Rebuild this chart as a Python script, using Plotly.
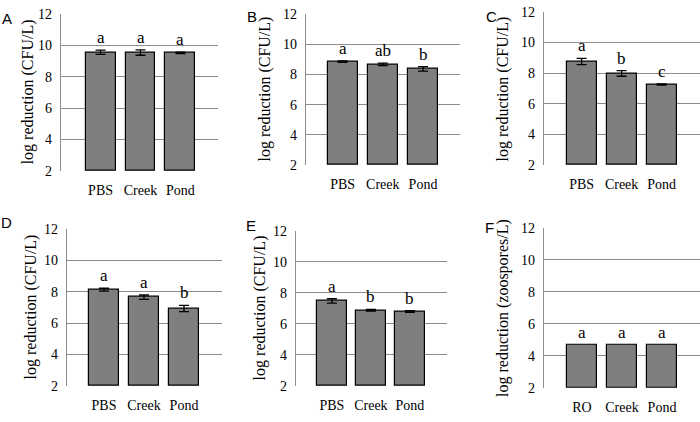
import plotly.graph_objects as go

# ---- data ----
panel_letters = ["A", "B", "C", "D", "E", "F"]
cats_bact = ["PBS", "Creek", "Pond"]
cats_zoo = ["RO", "Creek", "Pond"]

vals_A = [9.55, 9.53, 9.51]
err_A = [0.13, 0.17, 0.05]
sig_A = ["a", "a", "a"]

vals_B = [8.84, 8.66, 8.36]
err_B = [0.05, 0.08, 0.15]
sig_B = ["a", "ab", "b"]

vals_C = [8.76, 7.98, 7.26]
err_C = [0.20, 0.18, 0.04]
sig_C = ["a", "b", "c"]

vals_D = [8.13, 7.65, 6.93]
err_D = [0.09, 0.14, 0.20]
sig_D = ["a", "a", "b"]

vals_E = [7.48, 6.88, 6.80]
err_E = [0.14, 0.05, 0.05]
sig_E = ["a", "b", "b"]

vals_F = [4.70, 4.70, 4.70]
err_F = [0.0, 0.0, 0.0]
sig_F = ["a", "a", "a"]

ytitle_bact = "log reduction (CFU/L)"
ytitle_zoo = "log reduction (zoospores/L)"
y_ticks = [2, 4, 6, 8, 10, 12]

panels = [
    dict(v=vals_A, e=err_A, s=sig_A, c=cats_bact, t=ytitle_bact),
    dict(v=vals_B, e=err_B, s=sig_B, c=cats_bact, t=ytitle_bact),
    dict(v=vals_C, e=err_C, s=sig_C, c=cats_bact, t=ytitle_bact),
    dict(v=vals_D, e=err_D, s=sig_D, c=cats_bact, t=ytitle_bact),
    dict(v=vals_E, e=err_E, s=sig_E, c=cats_bact, t=ytitle_bact),
    dict(v=vals_F, e=err_F, s=sig_F, c=cats_zoo, t=ytitle_zoo),
]

# ---- layout geometry (pixels) ----
W, H = 700, 422
# left, right, top, bottom of each plot area
boxes = [
    (61, 218, 7, 170),
    (306, 460, 7, 164),
    (544, 700, 5, 164),
    (67, 222, 230, 393),
    (296, 447, 232, 393),
    (544, 700, 229, 395),
]
ranges_x = [
    [-0.99, 2.94],
    [-0.91, 2.92],
    [-0.94, 2.96],
    [-0.925, 2.95],
    [-0.92, 2.95],
    [-0.95, 2.95],
]
title_x = [28, 265, 503, 31, 260, 503]
letter_pos = [(7, 12), (252, 10), (491, 10), (6, 223), (251, 227), (490, 229)]

serif = "Liberation Serif"
sans = "Liberation Sans"

fig = go.Figure()
annotations = []
layout_axes = {}

for i, p in enumerate(panels):
    n = "" if i == 0 else str(i + 1)
    xa, ya = "x" + n, "y" + n
    l, r, t, b = boxes[i]
    show_err = any(e > 0 for e in p["e"])
    fig.add_trace(go.Bar(
        x=[0, 1, 2], y=[v - 2 for v in p["v"]], base=2,
        width=0.75,
        marker=dict(color="#7f7f7f", line=dict(color="#000000", width=1.2)),
        error_y=dict(type="data", array=p["e"], visible=show_err,
                     color="#000000", thickness=1.3, width=5),
        xaxis=xa, yaxis=ya, showlegend=False, hoverinfo="skip",
    ))
    layout_axes["xaxis" + n] = dict(
        domain=[l / W, r / W], anchor=ya, range=ranges_x[i],
        tickvals=[0, 1, 2], ticktext=p["c"],
        ticks="outside", ticklen=6, tickcolor="rgba(0,0,0,0)",
        showgrid=False, zeroline=False, showline=False,
        tickfont=dict(family=serif, size=14, color="#000"),
        fixedrange=True,
    )
    layout_axes["yaxis" + n] = dict(
        domain=[(H - b) / H, (H - t) / H], anchor=xa, range=[2, 12],
        tickvals=y_ticks, ticks="outside", ticklen=5,
        tickcolor="rgba(0,0,0,0)",
        showgrid=True, gridcolor="#8c8c8c", gridwidth=1.2,
        zeroline=False, showline=True, linecolor="#8c8c8c", linewidth=1.2,
        tickfont=dict(family=serif, size=14, color="#000"),
        fixedrange=True,
    )
    # y-axis title
    annotations.append(dict(
        x=title_x[i] / W, y=(H - (t + b) / 2) / H, xref="paper", yref="paper",
        text=p["t"], textangle=-90, showarrow=False,
        xanchor="center", yanchor="middle",
        font=dict(family=serif, size=16, color="#000"),
    ))
    # panel letter
    lx, ly = letter_pos[i]
    annotations.append(dict(
        x=lx / W, y=(H - ly) / H, xref="paper", yref="paper",
        text=panel_letters[i], showarrow=False,
        xanchor="center", yanchor="middle",
        font=dict(family=sans, size=15, color="#000"),
    ))
    # significance letters
    for j in range(3):
        annotations.append(dict(
            x=j, y=p["v"][j] + p["e"][j], xref=xa, yref=ya,
            text=p["s"][j], showarrow=False,
            xanchor="center", yanchor="bottom", yshift=1,
            font=dict(family=serif, size=17, color="#000"),
        ))

fig.update_layout(
    width=W, height=H,
    margin=dict(l=0, r=0, t=0, b=0),
    paper_bgcolor="white", plot_bgcolor="white",
    bargap=0,
    annotations=annotations,
    **layout_axes,
)

fig.write_html(
    "out.html",
    config={"displayModeBar": False},
    post_script="document.body.style.margin='0';document.body.style.overflow='hidden';",
)
